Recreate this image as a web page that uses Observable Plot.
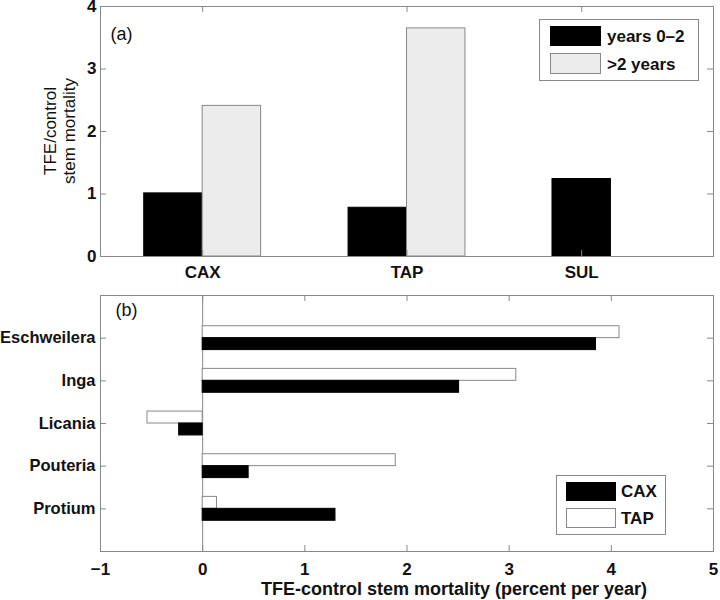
<!DOCTYPE html>
<html><head><meta charset="utf-8">
<script src="https://cdn.jsdelivr.net/npm/d3@7"></script>
<script src="https://cdn.jsdelivr.net/npm/@observablehq/plot@0.6"></script>
<style>
body{margin:0;background:#fff;font-family:"Liberation Sans",Arial,sans-serif;}
#wrap{position:relative;width:720px;height:600px;overflow:hidden;background:#fff;}
#wrap svg{position:absolute;left:0;}
.legend{position:absolute;border:1px solid #888;background:#fff;box-sizing:border-box;}
.sw{position:absolute;box-sizing:border-box;}
.lt{position:absolute;font-weight:bold;font-size:17px;line-height:17px;white-space:nowrap;color:#111;}
.yl{position:absolute;width:200px;height:20px;line-height:20px;font-size:17px;text-align:center;color:#111;
    white-space:nowrap;transform:rotate(-90deg);transform-origin:50% 50%;}
</style></head><body><div id="wrap"></div>
<script>
// ---- data ----
const sites = ["CAX", "TAP", "SUL"];
const sitePos = [1, 2, 2.855];
const years02 = [1.01, 0.78, 1.24];
const after2 = [2.41, 3.65, null];
const seriesA = ["years 0\u20132", ">2 years"];
const yLabelA = ["TFE/control", "stem mortality"];

const species = ["Eschweilera", "Inga", "Licania", "Pouteria", "Protium"];
const caxDiff = [3.85, 2.51, -0.23, 0.45, 1.30];
const tapDiff = [4.08, 3.07, -0.54, 1.89, 0.14];
const seriesB = ["CAX", "TAP"];
const xLabelB = "TFE-control stem mortality (percent per year)";

const yTicksA = [0, 1, 2, 3, 4];
const xTicksB = [-1, 0, 1, 2, 3, 4, 5];

// ---- layout ----
const W = 720, ML = 100, MR = 7, frameW = W - ML - MR;
const font = '"Liberation Sans", Arial, sans-serif';
const grey = "#888";
const tick = 6;
const intFmt = d3.format("d");
const wrap = document.getElementById("wrap");

// ---- panel (a) ----
const topH = 290, topMT = 6, topMB = 34, frameHA = topH - topMT - topMB;
const barW = 0.286;
const barsA = [];
sites.forEach((s, i) => {
  const p = sitePos[i];
  if (after2[i] == null) {
    barsA.push({site: s, series: seriesA[0], x1: p - barW / 2, x2: p + barW / 2, v: years02[i]});
  } else {
    barsA.push({site: s, series: seriesA[0], x1: p - barW, x2: p, v: years02[i]});
    barsA.push({site: s, series: seriesA[1], x1: p, x2: p + barW, v: after2[i]});
  }
});

const plotA = Plot.plot({
  width: W, height: topH, marginLeft: ML, marginRight: MR, marginTop: topMT, marginBottom: topMB,
  style: {fontFamily: font, fontSize: "17px", fontWeight: "bold", background: "transparent", color: "#111"},
  x: {type: "linear", domain: [0.5, 3.5]},
  y: {domain: [0, 4]},
  marks: [
    Plot.rect(barsA.filter(d => d.series === seriesA[0]), {x1: "x1", x2: "x2", y1: 0, y2: "v", fill: "#000", stroke: "#000"}),
    Plot.rect(barsA.filter(d => d.series === seriesA[1]), {x1: "x1", x2: "x2", y1: 0, y2: "v", fill: "#ececec", stroke: grey}),
    Plot.tickX(sitePos, {x: d => d, insetTop: frameHA - tick, stroke: grey}),
    Plot.tickX(sitePos, {x: d => d, insetBottom: frameHA - tick, stroke: grey}),
    Plot.tickY(yTicksA.slice(1, -1), {y: d => d, insetRight: frameW - tick, stroke: grey}),
    Plot.tickY(yTicksA.slice(1, -1), {y: d => d, insetLeft: frameW - tick, stroke: grey}),
    Plot.frame({stroke: grey}),
    Plot.axisX({ticks: sitePos, tickFormat: d => sites[sitePos.indexOf(d)], tickSize: 0, tickPadding: 9, label: null}),
    Plot.axisY({ticks: yTicksA, tickFormat: intFmt, tickSize: 0, tickPadding: 4, label: null}),
    Plot.text(["(a)"], {frameAnchor: "top-left", text: d => d, dx: 10, dy: 28, textAnchor: "start",
      lineAnchor: "middle", fontWeight: "normal", fontSize: 18})
  ]
});
plotA.style.top = "0px";
wrap.appendChild(plotA);

// ---- panel (b) ----
const botTop = 290, botH = 310, botMT = 5, botMB = 49, frameHB = botH - botMT - botMB;
const barH = 0.28;
const barsB = [];
species.forEach((s, i) => {
  const c = i + 1;
  barsB.push({sp: s, series: seriesB[1], y1: c - barH, y2: c, v: tapDiff[i]});
  barsB.push({sp: s, series: seriesB[0], y1: c, y2: c + barH, v: caxDiff[i]});
});
const catPos = species.map((s, i) => i + 1);

const plotB = Plot.plot({
  width: W, height: botH, marginLeft: ML, marginRight: MR, marginTop: botMT, marginBottom: botMB,
  style: {fontFamily: font, fontSize: "17px", fontWeight: "bold", background: "transparent", color: "#111"},
  x: {domain: [-1, 5]},
  y: {domain: [0, 6], reverse: true},
  marks: [
    Plot.ruleX([0], {stroke: grey}),
    Plot.rect(barsB.filter(d => d.series === seriesB[1]), {x1: 0, x2: "v", y1: "y1", y2: "y2", fill: "#fff", stroke: grey}),
    Plot.rect(barsB.filter(d => d.series === seriesB[0]), {x1: 0, x2: "v", y1: "y1", y2: "y2", fill: "#000", stroke: "#000"}),
    Plot.tickX(xTicksB.slice(1, -1), {x: d => d, insetTop: frameHB - tick, stroke: grey}),
    Plot.tickX(xTicksB.slice(1, -1), {x: d => d, insetBottom: frameHB - tick, stroke: grey}),
    Plot.tickY(catPos, {y: d => d, insetRight: frameW - tick, stroke: grey}),
    Plot.tickY(catPos, {y: d => d, insetLeft: frameW - tick, stroke: grey}),
    Plot.frame({stroke: grey}),
    Plot.axisX({ticks: xTicksB, tickFormat: intFmt, tickSize: 0, tickPadding: 11, label: null}),
    Plot.axisY({ticks: catPos, tickFormat: d => species[d - 1], tickSize: 0, tickPadding: 5, label: null, fontSize: 16.5}),
    Plot.text(["(b)"], {frameAnchor: "top-left", text: d => d, dx: 15, dy: 15, textAnchor: "start",
      lineAnchor: "middle", fontWeight: "normal", fontSize: 18}),
    Plot.text([xLabelB], {frameAnchor: "bottom", text: d => d,
      dx: 47, dy: 38, textAnchor: "middle", lineAnchor: "middle", fontSize: 18})
  ]
});
plotB.style.top = botTop + "px";
wrap.appendChild(plotB);

// ---- HTML text: y label and legends ----
function el(cls, css, txt) {
  const d = document.createElement("div");
  d.className = cls;
  Object.assign(d.style, css);
  if (txt) d.textContent = txt;
  wrap.appendChild(d);
  return d;
}
el("yl", {left: (51 - 100) + "px", top: "121px"}, yLabelA[0]);
el("yl", {left: (70 - 100) + "px", top: "121px"}, yLabelA[1]);

el("legend", {left: "539px", top: "19px", width: "160px", height: "62px"});
el("sw", {left: "550px", top: "26px", width: "51px", height: "20px", background: "#000"});
el("sw", {left: "550px", top: "53px", width: "51px", height: "21px", background: "#ececec", border: "1px solid " + grey});
el("lt", {left: "607px", top: "28px"}, seriesA[0]);
el("lt", {left: "607px", top: "56px"}, seriesA[1]);

el("legend", {left: "556px", top: "475px", width: "110px", height: "60px"});
el("sw", {left: "566px", top: "482px", width: "50px", height: "19px", background: "#000"});
el("sw", {left: "566px", top: "508px", width: "50px", height: "20px", background: "#fff", border: "1px solid " + grey});
el("lt", {left: "621px", top: "483px"}, seriesB[0]);
el("lt", {left: "621px", top: "510px"}, seriesB[1]);
</script></body></html>
